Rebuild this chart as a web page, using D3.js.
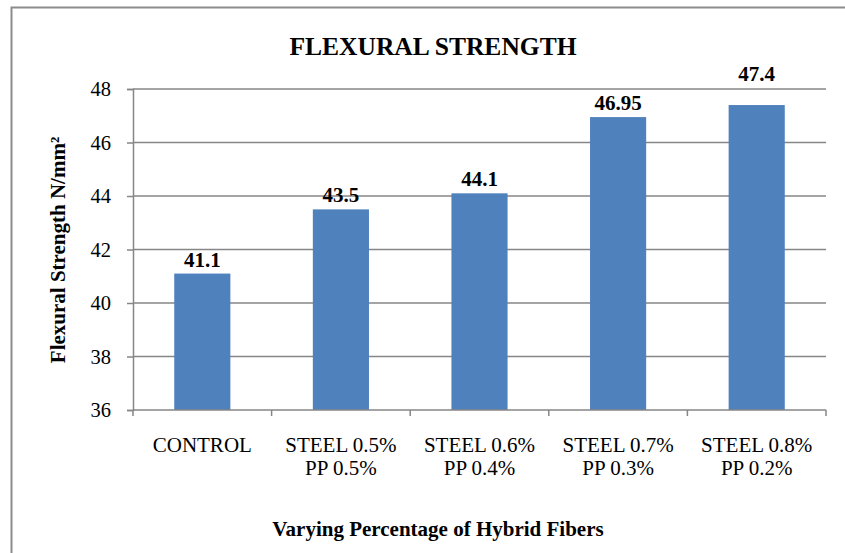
<!DOCTYPE html>
<html>
<head>
<meta charset="utf-8">
<script src="https://cdn.jsdelivr.net/npm/d3@7"></script>
<style>
  html, body { margin: 0; padding: 0; background: #fff; }
  svg text { font-family: "Liberation Serif", "Tinos", "Times New Roman", "DejaVu Serif", serif !important; }
</style>
</head>
<body>
<svg id="chart" width="845" height="553" style="display:block"></svg>
<script>
const categories = [
  ["CONTROL"],
  ["STEEL 0.5%", "PP 0.5%"],
  ["STEEL 0.6%", "PP 0.4%"],
  ["STEEL 0.7%", "PP 0.3%"],
  ["STEEL 0.8%", "PP 0.2%"]
];
const values = [41.1, 43.5, 44.1, 46.95, 47.4];
const valueLabels = ["41.1", "43.5", "44.1", "46.95", "47.4"];
const yTicks = [36, 38, 40, 42, 44, 46, 48];
const chartTitle = "FLEXURAL STRENGTH";
const xTitle = "Varying Percentage of Hybrid Fibers";
const yTitle = "Flexural Strength N/mm²";

(function () {
const svg = d3.select("#chart");
const gridColor = "#868686";
const barColor = "#4F81BD";

// outer frame
svg.append("rect")
  .attr("x", 11.5).attr("y", 7.5)
  .attr("width", 845).attr("height", 560)
  .attr("fill", "none").attr("stroke", "#8c8c8c").attr("stroke-width", 2);

const pLeft = 133, pRight = 826, pTop = 89, pBottom = 410;
const keys = categories.map((c, i) => i);

const x = d3.scaleBand().domain(keys).range([pLeft, pRight])
  .paddingInner(0.595).paddingOuter(0.2975);
const xCat = d3.scaleBand().domain(keys).range([pLeft, pRight]).padding(0);
const y = d3.scaleLinear().domain([36, 48]).range([pBottom, pTop]);

// gridlines
svg.append("g").selectAll("line").data(yTicks.filter(t => t !== 36)).join("line")
  .attr("x1", pLeft).attr("x2", pRight)
  .attr("y1", d => y(d)).attr("y2", d => y(d))
  .attr("stroke", gridColor).attr("stroke-width", 1.5);

// bars
svg.append("g").selectAll("rect").data(values).join("rect")
  .attr("x", (d, i) => x(i))
  .attr("y", d => y(d))
  .attr("width", x.bandwidth())
  .attr("height", d => y(36) - y(d))
  .attr("fill", barColor);

// y axis
const yAxis = d3.axisLeft(y).tickValues(yTicks).tickSize(6).tickPadding(16).tickFormat(d3.format("d"));
const gy = svg.append("g").attr("transform", `translate(${pLeft},0)`).call(yAxis);
gy.attr("font-family", null).attr("font-size", null);
gy.select(".domain").attr("stroke", gridColor).attr("stroke-width", 1.5);
gy.selectAll(".tick line").attr("stroke", gridColor).attr("stroke-width", 1.5);
gy.selectAll(".tick text")
  .attr("font-size", 20.5)
  .attr("fill", "#000").attr("dy", "0.32em");

// x axis with ticks at category boundaries
const boundaries = keys.map(k => xCat(k)).concat([pRight]);
svg.append("line")
  .attr("x1", pLeft).attr("x2", pRight).attr("y1", pBottom).attr("y2", pBottom)
  .attr("stroke", gridColor).attr("stroke-width", 1.5);
svg.append("g").selectAll("line").data(boundaries).join("line")
  .attr("x1", d => d).attr("x2", d => d)
  .attr("y1", pBottom).attr("y2", pBottom + 6)
  .attr("stroke", gridColor).attr("stroke-width", 1.5);

// category labels
const catG = svg.append("g").selectAll("text").data(categories).join("text")
  .attr("text-anchor", "middle")
  .attr("font-size", 21)
  .attr("fill", "#000")
  .attr("x", (d, i) => xCat(i) + xCat.bandwidth() / 2)
  .attr("y", pBottom + 42);
catG.selectAll("tspan").data(d => d).join("tspan")
  .attr("x", function() { return d3.select(this.parentNode).attr("x"); })
  .attr("dy", (d, j) => j === 0 ? 0 : 23)
  .text(d => d);

// value labels (pushed above the plot when they would cross the top gridline)
const labelSize = 21, capH = 14;
svg.append("g").selectAll("text").data(values).join("text")
  .attr("text-anchor", "middle")
  .attr("font-size", labelSize).attr("font-weight", "bold").attr("fill", "#000")
  .attr("x", (d, i) => x(i) + x.bandwidth() / 2)
  .attr("y", d => {
    const base = y(d) - 7;
    return (base - capH < pTop) ? pTop - 8 : base;
  })
  .text((d, i) => valueLabels[i]);

// title
svg.append("text")
  .attr("x", 433).attr("y", 55)
  .attr("text-anchor", "middle")
  .attr("font-size", 25.5).attr("font-weight", "bold")
  .text(chartTitle);

// x title
svg.append("text")
  .attr("x", 438).attr("y", 536)
  .attr("text-anchor", "middle")
  .attr("font-size", 21).attr("font-weight", "bold")
  .text(xTitle);

// y title
svg.append("text")
  .attr("transform", "translate(65,250) rotate(-90)")
  .attr("text-anchor", "middle")
  .attr("font-size", 21).attr("font-weight", "bold")
  .text(yTitle);
})();
</script>
</body>
</html>
